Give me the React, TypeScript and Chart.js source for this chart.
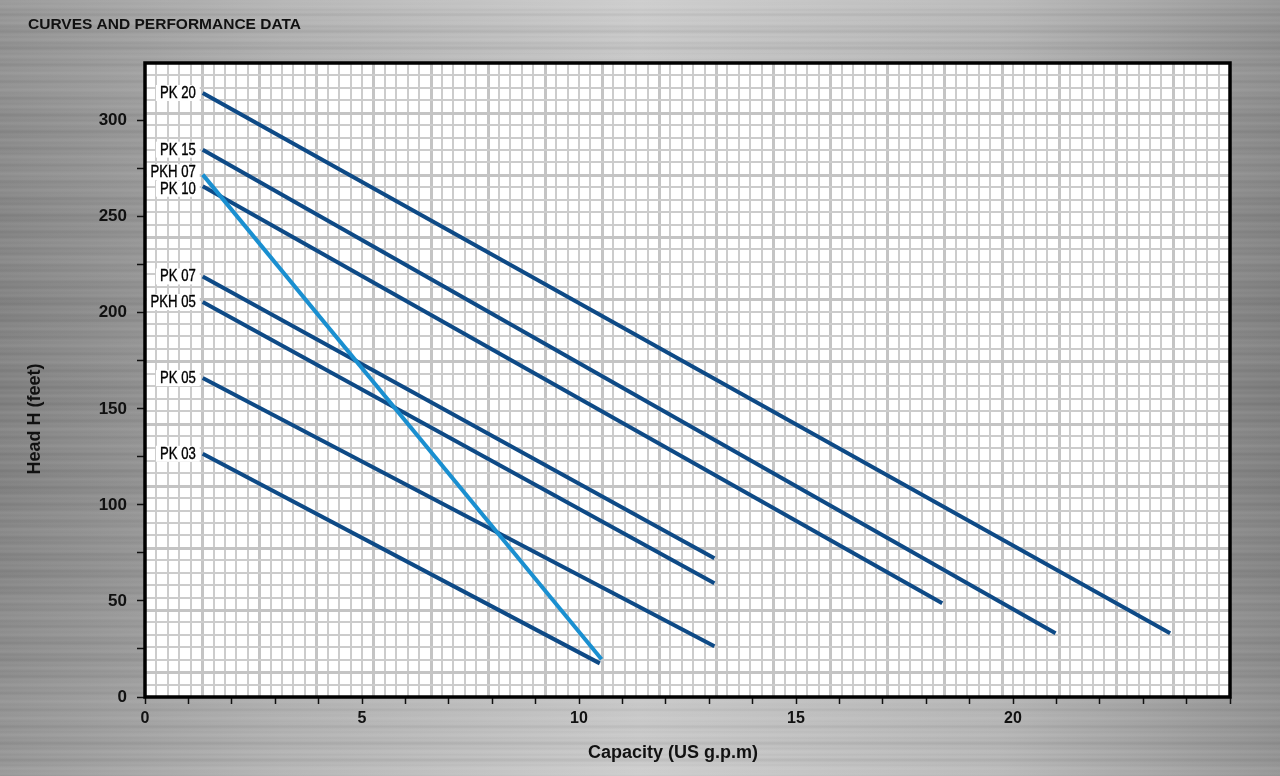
import React, { useEffect, useRef } from "react";
import { Chart, registerables } from "chart.js";

Chart.register(...registerables);

// ---- data ----
const seriesNames = ["PK 20", "PK 15", "PKH 07", "PK 10", "PK 07", "PKH 05", "PK 05", "PK 03"];
const startCapacity = [1.33, 1.33, 1.33, 1.33, 1.33, 1.33, 1.33, 1.33];
const startHead = [314.4, 284.9, 271.9, 265.8, 218.9, 205.6, 166.0, 126.6];
const endCapacity = [23.62, 20.98, 10.52, 18.37, 13.12, 13.12, 13.12, 10.48];
const endHead = [33.2, 33.2, 19.6, 48.8, 72.2, 59.2, 26.4, 17.5];
const seriesColors = ["#0e4a86", "#0e4a86", "#1a8fd0", "#0e4a86", "#0e4a86", "#0e4a86", "#0e4a86", "#0e4a86"];
const xLabelValues = [0, 5, 10, 15, 20];
const yLabelValues = [0, 50, 100, 150, 200, 250, 300];

const titleText = "CURVES AND PERFORMANCE DATA";
const xTitle = "Capacity (US g.p.m)";
const yTitle = "Head H (feet)";

const FONT = '"Liberation Sans", Arial, sans-serif';

const backgroundPlugin = {
  id: "metalBackground",
  beforeDraw(chart: any) {
    const { ctx, width, height } = chart;
    ctx.save();
    const g = ctx.createLinearGradient(0, 0, width, 0);
    g.addColorStop(0, "#8a8a8a");
    g.addColorStop(0.22, "#ababab");
    g.addColorStop(0.5, "#c6c6c6");
    g.addColorStop(0.78, "#b0b0b0");
    g.addColorStop(1, "#878787");
    ctx.fillStyle = g;
    ctx.fillRect(0, 0, width, height);
    const v = ctx.createLinearGradient(0, 0, 0, height);
    v.addColorStop(0, "rgba(255,255,255,0.12)");
    v.addColorStop(0.5, "rgba(0,0,0,0.05)");
    v.addColorStop(1, "rgba(255,255,255,0.14)");
    ctx.fillStyle = v;
    ctx.fillRect(0, 0, width, height);
    for (let y = 0; y < height; y += 1) {
      const s = Math.sin(y * 0.37) + Math.sin(y * 1.13 + 1.0) * 0.8 + Math.sin(y * 0.071 + 2.0) * 0.6;
      const a = Math.min(0.1, Math.abs(s) * 0.03);
      ctx.fillStyle = s > 0 ? `rgba(255,255,255,${a})` : `rgba(0,0,0,${a})`;
      ctx.fillRect(0, y, width, 1);
    }
    ctx.restore();
  },
};

const gridPlugin = {
  id: "paperGrid",
  beforeDatasetsDraw(chart: any) {
    const { ctx, chartArea } = chart;
    const { left, right, top, bottom } = chartArea;
    ctx.save();
    ctx.fillStyle = "#ffffff";
    ctx.fillRect(left, top, right - left, bottom - top);
    const nx = 95;
    const ny = 51;
    for (let i = 1; i < nx; i++) {
      const major = i % 5 === 0;
      const x = Math.round(left + ((right - left) * i) / nx) + (major ? 0.5 : 0);
      ctx.strokeStyle = major ? "#c4c4c4" : "#cccccc";
      ctx.lineWidth = major ? 3 : 2;
      ctx.beginPath();
      ctx.moveTo(x, top);
      ctx.lineTo(x, bottom);
      ctx.stroke();
    }
    for (let j = 1; j < ny; j++) {
      const major = j % 5 === 4;
      const y = Math.round(top + ((bottom - top) * j) / ny) + (major ? 0.5 : 0);
      ctx.strokeStyle = major ? "#c4c4c4" : "#cccccc";
      ctx.lineWidth = major ? 3 : 2;
      ctx.beginPath();
      ctx.moveTo(left, y);
      ctx.lineTo(right, y);
      ctx.stroke();
    }
    ctx.restore();
  },
};

const labelsPlugin = {
  id: "curveLabels",
  afterDatasetsDraw(chart: any) {
    const { ctx } = chart;
    ctx.save();
    ctx.font = `16px ${FONT}`;
    ctx.textAlign = "right";
    ctx.textBaseline = "middle";
    const sx = 0.82;
    const boxH = 16;
    // collect label anchors at each curve's first point
    const items: { label: string; x: number; y: number }[] = [];
    chart.data.datasets.forEach((ds: any, i: number) => {
      const p = chart.getDatasetMeta(i).data[0];
      if (p) items.push({ label: ds.label, x: p.x, y: p.y });
    });
    items.sort((a, b) => a.y - b.y);
    // push overlapping labels apart symmetrically
    for (let k = 1; k < items.length; k++) {
      const gap = items[k].y - items[k - 1].y;
      const need = boxH + 0.5 - gap;
      if (need > 0) {
        items[k - 1].y -= need / 2;
        items[k].y += need / 2;
      }
    }
    items.forEach((it) => {
      const tx = it.x - 7;
      const w = ctx.measureText(it.label).width * sx;
      ctx.fillStyle = "#ffffff";
      ctx.fillRect(tx - w - 4, it.y - boxH / 2, w + 8, boxH);
      ctx.save();
      ctx.translate(tx, it.y + 0.5);
      ctx.scale(sx, 1);
      ctx.fillStyle = "#000000";
      ctx.strokeStyle = "#000000";
      ctx.lineWidth = 0.35;
      ctx.fillText(it.label, 0, 0);
      ctx.strokeText(it.label, 0, 0);
      ctx.restore();
    });
    ctx.restore();
  },
  afterDraw(chart: any) {
    const { ctx, chartArea } = chart;
    const { left, right, top, bottom } = chartArea;
    ctx.save();
    ctx.strokeStyle = "#000000";
    ctx.lineWidth = 3.5;
    ctx.strokeRect(left, top, right - left, bottom - top);
    ctx.fillStyle = "#111111";
    ctx.font = `bold 15.5px ${FONT}`;
    ctx.textAlign = "left";
    ctx.textBaseline = "alphabetic";
    ctx.fillText(titleText, 28, 28.5);
    ctx.font = `bold 18px ${FONT}`;
    ctx.textAlign = "center";
    ctx.textBaseline = "middle";
    ctx.fillText(xTitle, 673, 753);
    ctx.translate(35, 419);
    ctx.rotate(-Math.PI / 2);
    ctx.fillText(yTitle, 0, 0);
    ctx.restore();
  },
};

export default function App() {
  const canvasRef = useRef<HTMLCanvasElement | null>(null);

  useEffect(() => {
    if (!canvasRef.current) return;
    const datasets = seriesNames.map((name, i) => ({
      label: name,
      data: [
        { x: startCapacity[i], y: startHead[i] },
        { x: endCapacity[i], y: endHead[i] },
      ],
      borderColor: seriesColors[i],
      backgroundColor: seriesColors[i],
      borderWidth: 4,
      pointRadius: 0,
      tension: 0,
      fill: false,
      order: name === "PKH 07" ? -1 : 0,
      borderCapStyle: "butt" as const,
    }));

    const chart = new Chart(canvasRef.current, {
      type: "line",
      data: { datasets },
      plugins: [backgroundPlugin, gridPlugin, labelsPlugin],
      options: {
        animation: false,
        responsive: false,
        layout: { padding: { top: 63, right: 50, left: 0, bottom: 0 } },
        plugins: { legend: { display: false }, tooltip: { enabled: false }, title: { display: false } },
        scales: {
          x: {
            type: "linear",
            min: 0,
            max: 25,
            afterFit: (s: any) => {
              s.height = 79;
            },
            ticks: {
              stepSize: 1,
              autoSkip: false,
              maxRotation: 0,
              padding: 5,
              color: "#111111",
              font: { family: FONT, size: 16, weight: "bold" },
              callback: (v: any) => (xLabelValues.includes(Number(v)) ? String(v) : ""),
            },
            grid: {
              display: true,
              drawOnChartArea: false,
              drawTicks: true,
              tickLength: 7,
              tickColor: "#111111",
              tickWidth: 1.5,
            },
            border: { display: false },
          },
          y: {
            type: "linear",
            min: 0,
            max: 330,
            afterFit: (s: any) => {
              s.width = 145;
            },
            afterBuildTicks: (s: any) => {
              s.ticks = s.ticks.filter((t: any) => t.value % 25 === 0);
            },
            ticks: {
              stepSize: 25,
              autoSkip: false,
              padding: 10,
              color: "#111111",
              font: { family: FONT, size: 17, weight: "bold" },
              callback: (v: any) => (yLabelValues.includes(Number(v)) ? String(v) : ""),
            },
            grid: {
              display: true,
              drawOnChartArea: false,
              drawTicks: true,
              tickLength: 8,
              tickColor: "#111111",
              tickWidth: 1.5,
            },
            border: { display: false },
          },
        },
      },
    });
    return () => chart.destroy();
  }, []);

  return (
    <div style={{ position: "absolute", left: 0, top: 0, width: 1280, height: 776 }}>
      <canvas ref={canvasRef} width={1280} height={776} style={{ width: 1280, height: 776, display: "block" }} />
    </div>
  );
}
